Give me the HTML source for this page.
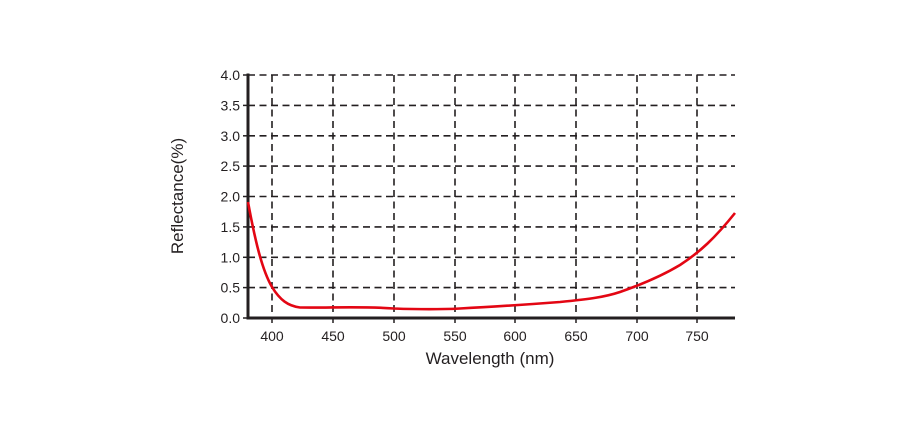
<!DOCTYPE html>
<html><head><style>body{margin:0;background:#fff}svg{display:block}</style></head><body>
<svg width="924" height="440" xmlns="http://www.w3.org/2000/svg" font-family="Liberation Sans, Arial, sans-serif">
<g stroke="#231f20" stroke-width="1.6" stroke-dasharray="7,4.5" fill="none">
<line x1="248" y1="75" x2="735" y2="75"/>
<line x1="248" y1="105.4" x2="735" y2="105.4"/>
<line x1="248" y1="135.8" x2="735" y2="135.8"/>
<line x1="248" y1="166.1" x2="735" y2="166.1"/>
<line x1="248" y1="196.5" x2="735" y2="196.5"/>
<line x1="248" y1="226.9" x2="735" y2="226.9"/>
<line x1="248" y1="257.3" x2="735" y2="257.3"/>
<line x1="248" y1="287.6" x2="735" y2="287.6"/>
<line x1="272" y1="75" x2="272" y2="318"/>
<line x1="333" y1="75" x2="333" y2="318"/>
<line x1="394" y1="75" x2="394" y2="318"/>
<line x1="455" y1="75" x2="455" y2="318"/>
<line x1="515" y1="75" x2="515" y2="318"/>
<line x1="576" y1="75" x2="576" y2="318"/>
<line x1="637" y1="75" x2="637" y2="318"/>
<line x1="697" y1="75" x2="697" y2="318"/>
</g>
<g stroke="#231f20" stroke-width="1.5">
<line x1="243" y1="75" x2="248" y2="75"/><line x1="243" y1="105.4" x2="248" y2="105.4"/><line x1="243" y1="135.8" x2="248" y2="135.8"/><line x1="243" y1="166.1" x2="248" y2="166.1"/><line x1="243" y1="196.5" x2="248" y2="196.5"/><line x1="243" y1="226.9" x2="248" y2="226.9"/><line x1="243" y1="257.3" x2="248" y2="257.3"/><line x1="243" y1="287.6" x2="248" y2="287.6"/><line x1="243" y1="318" x2="248" y2="318"/>
<line x1="272" y1="318" x2="272" y2="323"/><line x1="333" y1="318" x2="333" y2="323"/><line x1="394" y1="318" x2="394" y2="323"/><line x1="455" y1="318" x2="455" y2="323"/><line x1="515" y1="318" x2="515" y2="323"/><line x1="576" y1="318" x2="576" y2="323"/><line x1="637" y1="318" x2="637" y2="323"/><line x1="697" y1="318" x2="697" y2="323"/>
</g>
<path d="M248,73.5 V318 H735" stroke="#231f20" stroke-width="3" fill="none"/>
<path d="M248,202 C255,240 262,270 272,287 C280,300 288,306 300,307.5 C330,308 360,306 394,308.5 C420,309.5 440,309.5 460,308.5 C490,307 520,305 560,302 C590,299 605,297 620,292 C640,285 660,277 680,265 C700,252 715,238 735,213" stroke="#e30613" stroke-width="2.6" fill="none"/>
<g font-size="14" fill="#231f20" text-anchor="end">
<text x="240" y="80">4.0</text><text x="240" y="110.4">3.5</text><text x="240" y="140.8">3.0</text><text x="240" y="171.1">2.5</text><text x="240" y="201.5">2.0</text><text x="240" y="231.9">1.5</text><text x="240" y="262.3">1.0</text><text x="240" y="292.6">0.5</text><text x="240" y="323">0.0</text>
</g>
<g font-size="14" fill="#231f20" text-anchor="middle">
<text x="272" y="341">400</text><text x="333" y="341">450</text><text x="394" y="341">500</text><text x="455" y="341">550</text><text x="515" y="341">600</text><text x="576" y="341">650</text><text x="637" y="341">700</text><text x="697" y="341">750</text>
</g>
<text x="490" y="364" font-size="17" fill="#231f20" text-anchor="middle">Wavelength (nm)</text>
<text transform="translate(183,196) rotate(-90)" font-size="17" fill="#231f20" text-anchor="middle">Reflectance(%)</text>
</svg>
</body></html>
